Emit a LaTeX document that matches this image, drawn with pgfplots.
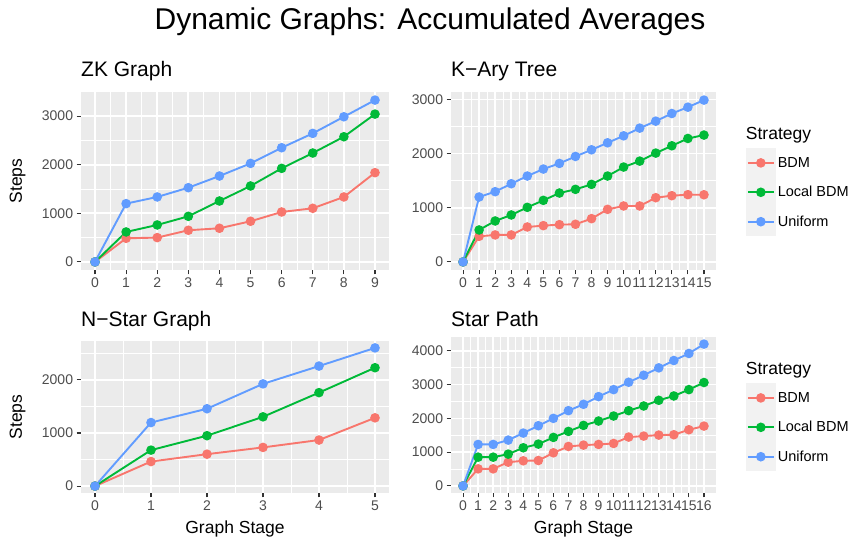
\documentclass[border=0pt]{standalone}
\usepackage{fontspec}
\setmainfont{Liberation Sans}
\usepackage{pgfplots}
\pgfplotsset{compat=1.18}

\definecolor{cR}{HTML}{F8766D}
\definecolor{cG}{HTML}{00BA38}
\definecolor{cB}{HTML}{619CFF}
\definecolor{bggray}{HTML}{EBEBEB}
\definecolor{keygray}{HTML}{F2F2F2}
\definecolor{tickgray}{HTML}{333333}
\definecolor{labgray}{HTML}{4D4D4D}

\pgfplotsset{
  ln/.style={line width=1.9pt, mark=*, mark size=3.8pt},
  gg/.style={
    scale only axis, anchor=south west,
    axis background/.style={fill=bggray},
    axis line style={draw=none},
    grid=both,
    major grid style={white, line width=1.7pt},
    minor grid style={white, line width=0.85pt},
    tick align=outside, tick pos=left,
    major tick length=4.4pt, minor tick length=0pt,
    every tick/.style={tickgray, line width=1.1pt},
    tick label style={font=\fontsize{14}{16}\selectfont, color=labgray},
    /pgf/number format/assume math mode=true,
    /pgf/number format/1000 sep={},
    scaled y ticks=false,
    label style={font=\fontsize{17.5}{20}\selectfont},
    legend image code/.code={
      \fill[keygray] (0pt,-13.75pt) rectangle (28pt,13.75pt);
      \draw[##1, mark=none] (1pt,0pt) -- (27pt,0pt);
      \draw[##1, only marks] plot coordinates {(14pt,0pt)};
    },
    legend cell align=left,
    legend style={draw=none, fill=none, inner sep=0pt, row sep=0pt,
      font=\fontsize{14.5}{17}\selectfont, anchor=north west,
      /tikz/every even column/.append style={column sep=5pt}},
  }
}

\begin{document}
\begin{tikzpicture}
\useasboundingbox (0pt,0pt) rectangle (857pt,541pt);

\node[anchor=base, inner sep=0pt, font=\fontsize{30}{36}\selectfont] at (430pt,511pt) {Dynamic Graphs: Accumulated Averages};

\node[anchor=base west, inner sep=0pt, font=\fontsize{21}{25}\selectfont] at (81pt,464.3pt) {ZK Graph};
\node[anchor=base west, inner sep=0pt, font=\fontsize{21}{25}\selectfont] at (451pt,464.3pt) {K−Ary Tree};
\node[anchor=base west, inner sep=0pt, font=\fontsize{21}{25}\selectfont] at (81pt,214.3pt) {N−Star Graph};
\node[anchor=base west, inner sep=0pt, font=\fontsize{21}{25}\selectfont] at (451pt,214.3pt) {Star Path};

\node[anchor=base west, inner sep=0pt, font=\fontsize{17.5}{20}\selectfont] at (745.7pt,401pt) {Strategy};
\node[anchor=base west, inner sep=0pt, font=\fontsize{17.5}{20}\selectfont] at (745.7pt,166pt) {Strategy};

% ZK Graph
\begin{axis}[gg, at={(81pt,271pt)}, width=308pt, height=178pt,
  xmin=-0.45, xmax=9.45, ymin=-166.5, ymax=3495.5,
  xtick={0,...,9}, minor xtick={0.5,1.5,...,8.5},
  ytick={0,1000,2000,3000}, minor ytick={500,1500,2500},
  ylabel={Steps}, ylabel style={at={(axis description cs:-0.206,0.5)}, anchor=center}]
\addplot[cR, ln] coordinates {(0,0) (1,486) (2,500) (3,651) (4,692) (5,836) (6,1027) (7,1103) (8,1336) (9,1836)};
\addplot[cG, ln] coordinates {(0,0) (1,616) (2,760) (3,938) (4,1253) (5,1562) (6,1925) (7,2240) (8,2575) (9,3041)};
\addplot[cB, ln] coordinates {(0,0) (1,1199) (2,1336) (3,1527) (4,1767) (5,2027) (6,2349) (7,2644) (8,2986) (9,3329)};
\end{axis}

% K-Ary Tree
\begin{axis}[gg, at={(451pt,271pt)}, width=265pt, height=178pt,
  xmin=-0.75, xmax=15.75, ymin=-149.5, ymax=3138.5,
  xtick={0,...,15}, minor xtick={0.5,1.5,...,14.5},
  ytick={0,1000,2000,3000}, minor ytick={500,1500,2500},
  legend style={at={(axis description cs:1.112,0.6854)}}]
\addplot[cR, ln] coordinates {(0,0) (1,473) (2,498) (3,498) (4,645) (5,670) (6,688) (7,695) (8,799) (9,971) (10,1033) (11,1033) (12,1186) (13,1223) (14,1242) (15,1240)};
\addplot[cG, ln] coordinates {(0,0) (1,590) (2,756) (3,867) (4,1008) (5,1137) (6,1272) (7,1340) (8,1432) (9,1586) (10,1752) (11,1862) (12,2010) (13,2145) (14,2280) (15,2343)};
\addplot[cB, ln] coordinates {(0,0) (1,1199) (2,1297) (3,1444) (4,1586) (5,1715) (6,1819) (7,1948) (8,2071) (9,2200) (10,2329) (11,2471) (12,2600) (13,2741) (14,2858) (15,2989)};
\legend{BDM, Local BDM, Uniform}
\end{axis}

% N-Star Graph
\begin{axis}[gg, at={(81pt,48pt)}, width=308pt, height=152pt,
  xmin=-0.25, xmax=5.25, ymin=-130, ymax=2731,
  xtick={0,...,5}, minor xtick={0.5,1.5,...,4.5},
  ytick={0,1000,2000}, minor ytick={500,1500,2500},
  ylabel={Steps}, ylabel style={at={(axis description cs:-0.206,0.5)}, anchor=center},
  xlabel={Graph Stage}, xlabel style={at={(axis description cs:0.5,-0.265)}, anchor=base}]
\addplot[cR, ln] coordinates {(0,0) (1,462) (2,601) (3,728) (4,867) (5,1285)};
\addplot[cG, ln] coordinates {(0,0) (1,677) (2,949) (3,1304) (4,1759) (5,2228)};
\addplot[cB, ln] coordinates {(0,0) (1,1196) (2,1456) (3,1924) (4,2259) (5,2601)};
\end{axis}

% Star Path
\begin{axis}[gg, at={(451pt,48pt)}, width=265pt, height=156pt,
  xmin=-0.8, xmax=16.8, ymin=-210, ymax=4409,
  xtick={0,...,16}, minor xtick={0.5,1.5,...,15.5},
  ytick={0,1000,2000,3000,4000}, minor ytick={500,1500,2500,3500},
  xlabel={Graph Stage}, xlabel style={at={(axis description cs:0.5,-0.258)}, anchor=base},
  legend style={at={(axis description cs:1.112,0.705)}}]
\addplot[cR, ln] coordinates {(0,0) (1,505) (2,505) (3,703) (4,743) (5,752) (6,980) (7,1168) (8,1208) (9,1228) (10,1257) (11,1446) (12,1475) (13,1505) (14,1515) (15,1663) (16,1771)};
\addplot[cG, ln] coordinates {(0,0) (1,851) (2,851) (3,941) (4,1129) (5,1238) (6,1436) (7,1614) (8,1792) (9,1921) (10,2069) (11,2228) (12,2366) (13,2535) (14,2663) (15,2851) (16,3061)};
\addplot[cB, ln] coordinates {(0,0) (1,1228) (2,1228) (3,1356) (4,1564) (5,1782) (6,2000) (7,2228) (8,2416) (9,2644) (10,2851) (11,3069) (12,3277) (13,3495) (14,3713) (15,3921) (16,4199)};
\legend{BDM, Local BDM, Uniform}
\end{axis}
\end{tikzpicture}
\end{document}
